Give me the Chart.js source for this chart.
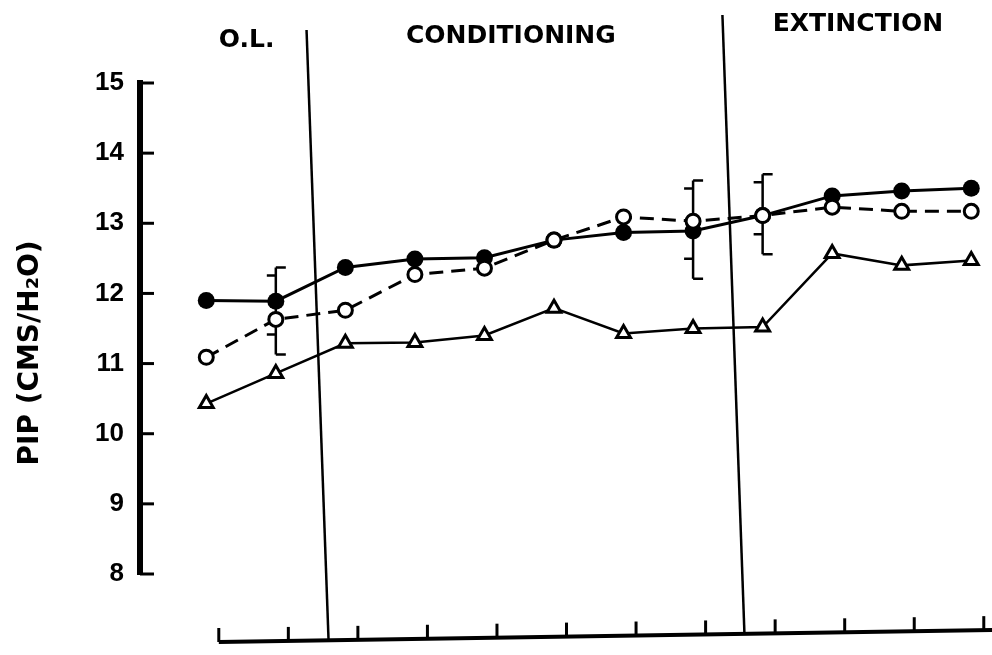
<!DOCTYPE html>
<html>
<head>
<meta charset="utf-8">
<script src="https://cdn.jsdelivr.net/npm/chart.js@4.4.1/dist/chart.umd.min.js"></script>
<style>
  html, body { margin: 0; padding: 0; background: #fff; }
</style>
</head>
<body>
<canvas id="myChart" width="992" height="655"></canvas>
<script>
// sessions (no numbers printed under the x axis)
var sessions = [0, 1, 2, 3, 4, 5, 6, 7, 8, 9, 10, 11];

// PIP values
var filledCircles = [11.90, 11.89, 12.37, 12.49, 12.51, 12.76, 12.87, 12.89, 13.11, 13.39, 13.46, 13.50];
var openCircles   = [11.09, 11.63, 11.76, 12.27, 12.36, 12.76, 13.09, 13.03, 13.11, 13.23, 13.17, 13.17];
var triangles     = [10.43, 10.86, 11.29, 11.30, 11.40, 11.79, 11.43, 11.50, 11.52, 12.57, 12.40, 12.47];

// error bars: session, low, high
var errSessions = [1, 7, 8];
var errLow      = [11.13, 12.21, 12.56];
var errHigh     = [12.37, 13.61, 13.70];

// phases
var phaseNames  = ['O.L.', 'CONDITIONING', 'EXTINCTION'];
var phaseBreaks = [1.6, 7.58];

var yTicks = [8, 9, 10, 11, 12, 13, 14, 15];
var yTitle = 'PIP (CMS/H\u2082O)';

function points(values) {
    return sessions.map(function (s, i) { return { x: s, y: values[i] }; });
}

// extra drawing: phase lines, error bars, inward ticks, bottom axis, labels
var figurePlugin = {
    id: 'figure',
    beforeDatasetsDraw: function (chart) {
        var ctx = chart.ctx;
        var xs = chart.scales.x, ys = chart.scales.y;
        ctx.save();
        ctx.strokeStyle = '#000';

        // phase separators (scan is a bit skewed)
        ctx.lineWidth = 2.5;
        var tops = [30, 15];
        phaseBreaks.forEach(function (b, i) {
            var x = xs.getPixelForValue(b);
            ctx.beginPath();
            ctx.moveTo(x - 11, tops[i]);
            ctx.lineTo(x + 11, 640 - i * 7);
            ctx.stroke();
        });

        // error bars
        ctx.lineWidth = 2.5;
        errSessions.forEach(function (s, i) {
            var x = xs.getPixelForValue(s);
            var yT = ys.getPixelForValue(errHigh[i]);
            var yB = ys.getPixelForValue(errLow[i]);
            ctx.beginPath();
            ctx.moveTo(x, yT); ctx.lineTo(x, yB);
            ctx.moveTo(x, yT); ctx.lineTo(x + 10, yT);
            ctx.moveTo(x, yT + 8); ctx.lineTo(x - 9, yT + 8);
            ctx.moveTo(x, yB - 20); ctx.lineTo(x - 9, yB - 20);
            ctx.moveTo(x, yB); ctx.lineTo(x + 10, yB);
            ctx.stroke();
        });
        ctx.restore();
    },
    afterDraw: function (chart) {
        var ctx = chart.ctx;
        var xs = chart.scales.x, ys = chart.scales.y;
        var left = chart.chartArea.left;
        ctx.save();
        ctx.strokeStyle = '#000';
        ctx.fillStyle = '#000';

        // inward ticks on the y axis
        ctx.lineWidth = 3;
        yTicks.forEach(function (v) {
            var y = ys.getPixelForValue(v);
            ctx.beginPath();
            ctx.moveTo(left, y);
            ctx.lineTo(left + 14, y);
            ctx.stroke();
        });

        // bottom axis, slightly tilted like the scan
        var x0 = xs.getPixelForValue(0.18), x1 = 992;
        function baseY(x) { return 642 - 12 * (x - x0) / (x1 - x0); }
        ctx.lineWidth = 4;
        ctx.beginPath();
        ctx.moveTo(x0, baseY(x0));
        ctx.lineTo(x1, baseY(x1));
        ctx.stroke();
        ctx.lineWidth = 3;
        sessions.forEach(function (s) {
            var x = xs.getPixelForValue(s + 0.18);
            ctx.beginPath();
            ctx.moveTo(x, baseY(x));
            ctx.lineTo(x, baseY(x) - 14);
            ctx.stroke();
        });

        // phase names
        ctx.font = 'bold 25px "DejaVu Sans"';
        ctx.textAlign = 'center';
        ctx.textBaseline = 'middle';
        var labelX = [0.58, 4.38, 9.37];
        var labelY = [40, 36, 24];
        phaseNames.forEach(function (name, i) {
            ctx.fillText(name, xs.getPixelForValue(labelX[i]), labelY[i]);
        });

        // y axis title
        ctx.translate(31, 353);
        ctx.rotate(-Math.PI / 2);
        ctx.font = 'bold 28px "DejaVu Sans"';
        ctx.fillText(yTitle, 0, 0);
        ctx.restore();
    }
};

var ctx = document.getElementById('myChart').getContext('2d');

var chart = new Chart(ctx, {
    type: 'line',
    data: {
        datasets: [
            {
                label: 'filled',
                data: points(filledCircles),
                borderColor: '#000',
                backgroundColor: '#000',
                borderWidth: 3,
                pointStyle: 'circle',
                pointRadius: 8.5,
                pointBorderWidth: 0,
                clip: false,
                order: 2
            },
            {
                label: 'open',
                data: points(openCircles),
                borderColor: '#000',
                backgroundColor: '#fff',
                borderWidth: 3,
                borderDash: [14, 8],
                pointStyle: 'circle',
                pointRadius: 7,
                pointBorderWidth: 3,
                clip: false,
                order: 1
            },
            {
                label: 'triangle',
                data: points(triangles),
                borderColor: '#000',
                backgroundColor: '#fff',
                borderWidth: 2.5,
                pointStyle: 'triangle',
                pointRadius: 8,
                pointBorderWidth: 3,
                clip: false,
                order: 3
            }
        ]
    },
    options: {
        responsive: false,
        animation: false,
        layout: { padding: { top: 83, bottom: 81, left: 0, right: 2 } },
        plugins: {
            legend: { display: false },
            tooltip: { enabled: false }
        },
        scales: {
            x: {
                type: 'linear',
                display: false,
                min: -0.953,
                max: 11.14
            },
            y: {
                min: 8,
                max: 15,
                afterFit: function (scale) { scale.width = 140; },
                ticks: {
                    stepSize: 1,
                    color: '#000',
                    padding: 16,
                    font: { family: 'Liberation Sans', weight: 'bold', size: 26 }
                },
                grid: { display: true, drawOnChartArea: false, drawTicks: false },
                border: { display: true, color: '#000', width: 6 }
            }
        }
    },
    plugins: [figurePlugin]
});
</script>
</body>
</html>
